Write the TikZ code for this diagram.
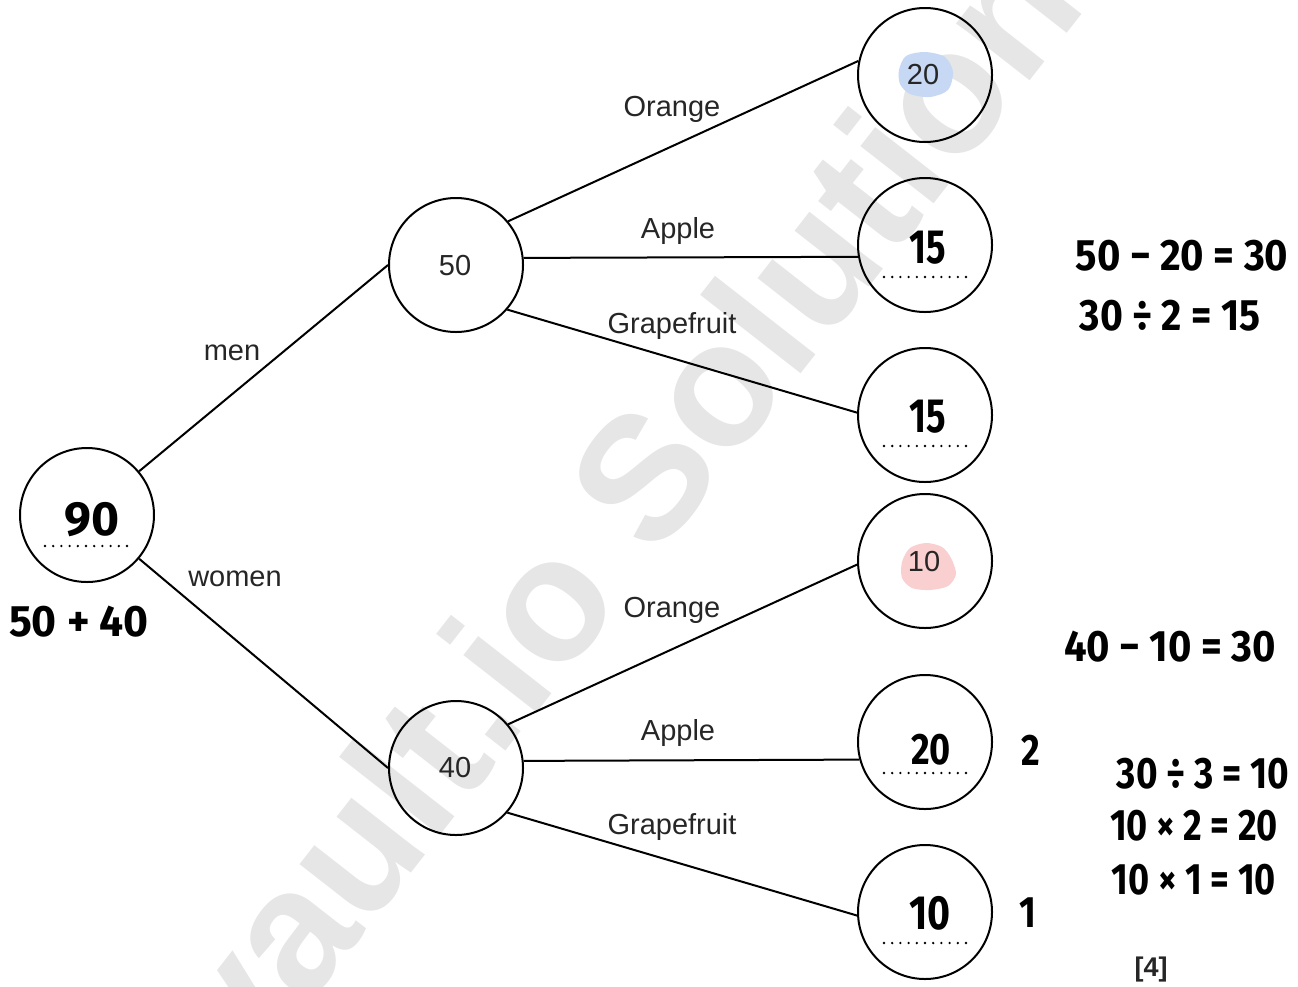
\documentclass[tikz,border=0pt]{standalone}
\usepackage{fontspec}
\usepackage{graphicx}
\setmainfont{Liberation Sans}
\newfontfamily\handfont{Fira Sans}
\newcommand\hwtext[2][0.82]{\scalebox{#1}[1]{\handfont\bfseries #2}}
\definecolor{blobblue}{HTML}{C6D8F4}
\definecolor{blobpink}{HTML}{F9CFCF}
\definecolor{wmgray}{HTML}{E6E6E6}
\definecolor{lblgray}{HTML}{262626}
\begin{document}
\begin{tikzpicture}[x=1pt,y=-1pt,
  circ/.style={circle, draw, line width=2pt, minimum size=134pt, inner sep=0pt},
  conn/.style={line width=2pt},
  lbl/.style={font=\fontsize{29}{32}\selectfont, text=lblgray, inner sep=0pt},
  hw/.style={font=\fontsize{44}{48}\selectfont, inner sep=0pt},
  hwbig/.style={font=\fontsize{48}{52}\selectfont, inner sep=0pt},
  dotline/.style={line width=2.6pt, dash pattern=on 0pt off 8.2pt, line cap=round},
  wm/.style={font=\bfseries\fontsize{176}{180}\selectfont, text=wmgray, rotate=52, inner sep=0pt}
]
\useasboundingbox (0,0) rectangle (1298,986);
% watermark
\node[wm] (wmark) at (648,468) {vault.io Solutions};
% highlight blobs
\fill[blobblue] plot[smooth cycle] coordinates {(899,70) (906,56) (925,52) (945,57) (953,72) (948,90) (930,97) (910,94) (900,84)};
\fill[blobpink] plot[smooth cycle] coordinates {(902,562) (910,548) (926,543) (942,547) (951,558) (956,574) (948,586) (930,590) (912,588) (902,578)};
% nodes
\node[circ] (root) at (87,515) {};
\node[circ] (m) at (456,265) {};
\node[circ] (w) at (456,768) {};
\node[circ] (mo) at (925,75) {};
\node[circ] (ma) at (925,245) {};
\node[circ] (mg) at (925,415) {};
\node[circ] (wo) at (925,561) {};
\node[circ] (wa) at (925,742) {};
\node[circ] (wg) at (925,912) {};
% printed numbers
\node[lbl] (t50) at (455,266) {50};
\node[lbl] (t40) at (455,768) {40};
\node[lbl] (t20) at (923,75) {20};
\node[lbl] (t10) at (924,562) {10};
% connectors
\draw[conn] (root.40) -- (m.west);
\draw[conn] (root.-40) -- (w.west);
\draw[conn] (m.40.9) -- (mo.168.7);
\draw[conn] (m.6.9) -- (ma.190.3);
\draw[conn] (m.-41.5) -- (mg.178.3);
\draw[conn] (w.40.9) -- (wo.183.4);
\draw[conn] (w.6.9) -- (wa.195.6);
\draw[conn] (w.-41.5) -- (wg.183.4);
% branch labels
\node[lbl] (lmen) at (232,353) {men};
\node[lbl] (lwomen) at (235,579) {women};
\node[lbl] (lmo) at (672,109) {Orange};
\node[lbl] (lma) at (678,231) {Apple};
\node[lbl] (lmg) at (672,326) {Grapefruit};
\node[lbl] (lwo) at (672,610) {Orange};
\node[lbl] (lwa) at (678,733) {Apple};
\node[lbl] (lwg) at (672,827) {Grapefruit};
% dotted answer lines
\coordinate (d0a) at (45,546); \coordinate (d0b) at (131,546);
\coordinate (d1a) at (884,277); \coordinate (d1b) at (969,277);
\coordinate (d2a) at (884,446); \coordinate (d2b) at (969,446);
\coordinate (d3a) at (884,773); \coordinate (d3b) at (969,773);
\coordinate (d4a) at (884,943); \coordinate (d4b) at (969,943);
\draw[dotline] (d0a) -- (d0b);
\draw[dotline] (d1a) -- (d1b);
\draw[dotline] (d2a) -- (d2b);
\draw[dotline] (d3a) -- (d3b);
\draw[dotline] (d4a) -- (d4b);
% handwritten answers
\node[hwbig] (h90) at (92,520) {\hwtext[1.0]{90}};
\node[hwbig] (h15a) at (928,248) {\hwtext[0.76]{15}};
\node[hwbig] (h15b) at (928,417) {\hwtext[0.76]{15}};
\node[hw] (h20) at (931,750) {\hwtext{20}};
\node[hwbig] (h10) at (930,913) {\hwtext{10}};
\node[hw] (h2) at (1031,750) {\hwtext{2}};
\node[hw] (h1) at (1028,913) {\hwtext{1}};
\node[hw] (e0) at (79,622) {\hwtext[0.97]{50 + 40}};
\node[hw] (e1) at (1182,256) {\hwtext[0.91]{50 − 20 = 30}};
\node[hw] (e2) at (1170,316) {\hwtext[0.89]{30 ÷ 2 = 15}};
\node[hw] (e3) at (1170,647) {\hwtext[0.91]{40 − 10 = 30}};
\node[hw] (e4) at (1203,774) {\hwtext[0.84]{30 ÷ 3 = 10}};
\node[hw] (e5) at (1194,826) {\hwtext{10 × 2 = 20}};
\node[hw] (e6) at (1194,880) {\hwtext{10 × 1 = 10}};
% marks
\node[font=\bfseries\fontsize{27}{30}\selectfont, text=lblgray, inner sep=0pt] (marks) at (1151,970) {[4]};
\end{tikzpicture}
\end{document}
